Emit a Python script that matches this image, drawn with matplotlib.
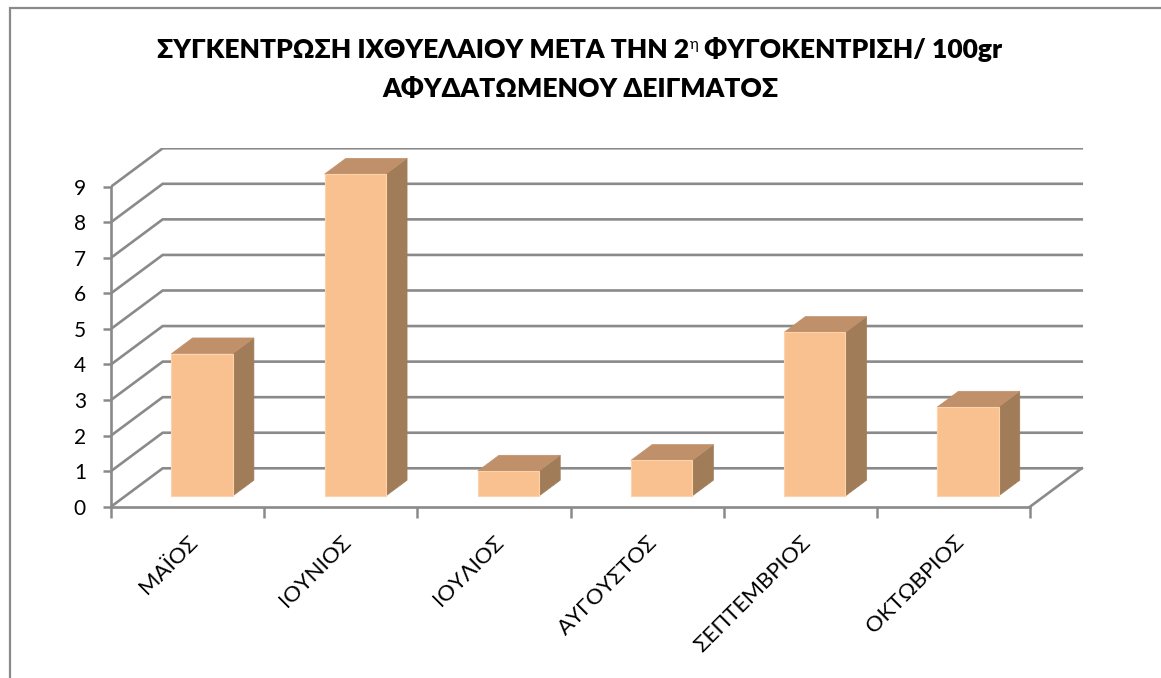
import numpy as np
import matplotlib
matplotlib.use('Agg')
import matplotlib.pyplot as plt
from matplotlib.patches import Polygon, Rectangle

plt.rcParams['font.family'] = ['Lato', 'DejaVu Sans']

# data
months = ['ΜΑΪΟΣ', 'ΙΟΥΝΙΟΣ', 'ΙΟΥΛΙΟΣ', 'ΑΥΓΟΥΣΤΟΣ', 'ΣΕΠΤΕΜΒΡΙΟΣ', 'ΟΚΤΩΒΡΙΟΣ']
values = [4.0, 9.05, 0.7, 1.0, 4.6, 2.5]
yticks = list(range(10))

# title line 1 split around the superscript
title_parts = ['ΣΥΓΚΕΝΤΡΩΣΗ ΙΧΘΥΕΛΑΙΟΥ ΜΕΤΑ ΤΗΝ 2', 'η', ' ΦΥΓΟΚΕΝΤΡΙΣΗ/ 100gr']
title_2 = 'ΑΦΥΔΑΤΩΜΕΝΟΥ ΔΕΙΓΜΑΤΟΣ'

# 3d look: depth vector of the floor in data units
ddx, ddy = 0.3375, 1.08
front, back = 0.28, 0.69   # bar depth position (fraction of floor depth)
width = 0.4

grid_col = '#8a8a8a'
face_col = '#fac190'
top_col = '#c0906a'
side_col = '#a07c59'

fig = plt.figure(figsize=(11.61, 6.78), dpi=100)
W, H = 1161, 678

# chart border
fig.add_artist(Rectangle((9.5 / W, -0.1), 1.2, (678 - 7.5) / H + 0.1, transform=fig.transFigure,
                         fill=False, edgecolor='#8a8a8a', linewidth=1.6))

ax = fig.add_axes([111 / W, (H - 506.7) / H, 6.35 * 153.17 / W, 10.1 * 35.56 / H])
ax.set_xlim(0, 6.35)
ax.set_ylim(0, 10.1)
n = len(months)

# walls: side wall diagonals + back wall lines
for k in yticks:
    ax.plot([0, ddx, n + ddx], [k, k + ddy, k + ddy], color=grid_col, lw=1.9, zorder=1,
            solid_joinstyle='miter')
# floor right edge
ax.plot([n, n + ddx], [0, ddy], color=grid_col, lw=1.9, zorder=1)

# bars
for i, v in enumerate(values):
    x0 = i + 0.5 - width / 2
    x1 = i + 0.5 + width / 2
    fx, fy = front * ddx, front * ddy
    bx, by = back * ddx, back * ddy
    ax.add_patch(Polygon([(x1 + fx, fy), (x1 + fx, fy + v), (x1 + bx, by + v), (x1 + bx, by)],
                         closed=True, facecolor=side_col, edgecolor=side_col, lw=0.5, zorder=3))
    ax.add_patch(Polygon([(x0 + fx, fy + v), (x1 + fx, fy + v), (x1 + bx, by + v), (x0 + bx, by + v)],
                         closed=True, facecolor=top_col, edgecolor=top_col, lw=0.5, zorder=3))
    ax.add_patch(Rectangle((x0 + fx, fy), width, v, facecolor=face_col, edgecolor='#fdd3ab',
                           lw=0.8, zorder=4))

for s in ['top', 'right']:
    ax.spines[s].set_visible(False)
ax.spines['left'].set_bounds(0, 9)
ax.spines['bottom'].set_bounds(0, n)
for s in ['left', 'bottom']:
    ax.spines[s].set_color(grid_col)
    ax.spines[s].set_linewidth(1.9)
    ax.spines[s].set_zorder(2)

ax.set_yticks(yticks)
ax.set_yticklabels([str(t) for t in yticks], fontsize=15)
ax.tick_params(axis='y', length=6, width=1.8, color=grid_col, pad=12)

ax.set_xticks(range(n + 1))
ax.set_xticklabels([])
ax.set_xticks(np.arange(n) + 0.5, minor=True)
ax.set_xticklabels(months, minor=True, rotation=45, ha='right', va='top',
                   rotation_mode='anchor', fontsize=16)
ax.tick_params(axis='x', which='major', length=8, width=1.8, color=grid_col)
ax.tick_params(axis='x', which='minor', length=0, pad=18)

# title: line 1 built from pieces so the eta can be raised
renderer = fig.canvas.get_renderer()
sizes = [19, 11, 19]
rises = [0, 9, 0]
weights = ['heavy', 'normal', 'heavy']
pieces = []
for txt, fs, wt in zip(title_parts, sizes, weights):
    t = fig.text(0, 0, txt, fontsize=fs, weight=wt, ha='left', va='baseline')
    pieces.append(t)
widths = [t.get_window_extent(renderer).width for t in pieces]
x = 580 - sum(widths) / 2
for t, w, r in zip(pieces, widths, rises):
    t.set_position((x / W, 1 - (58.5 - r) / H))
    x += w
fig.text(580 / W, 1 - 97 / H, title_2, ha='center', va='baseline',
         fontsize=19, weight='heavy')

fig.savefig('out.png')
